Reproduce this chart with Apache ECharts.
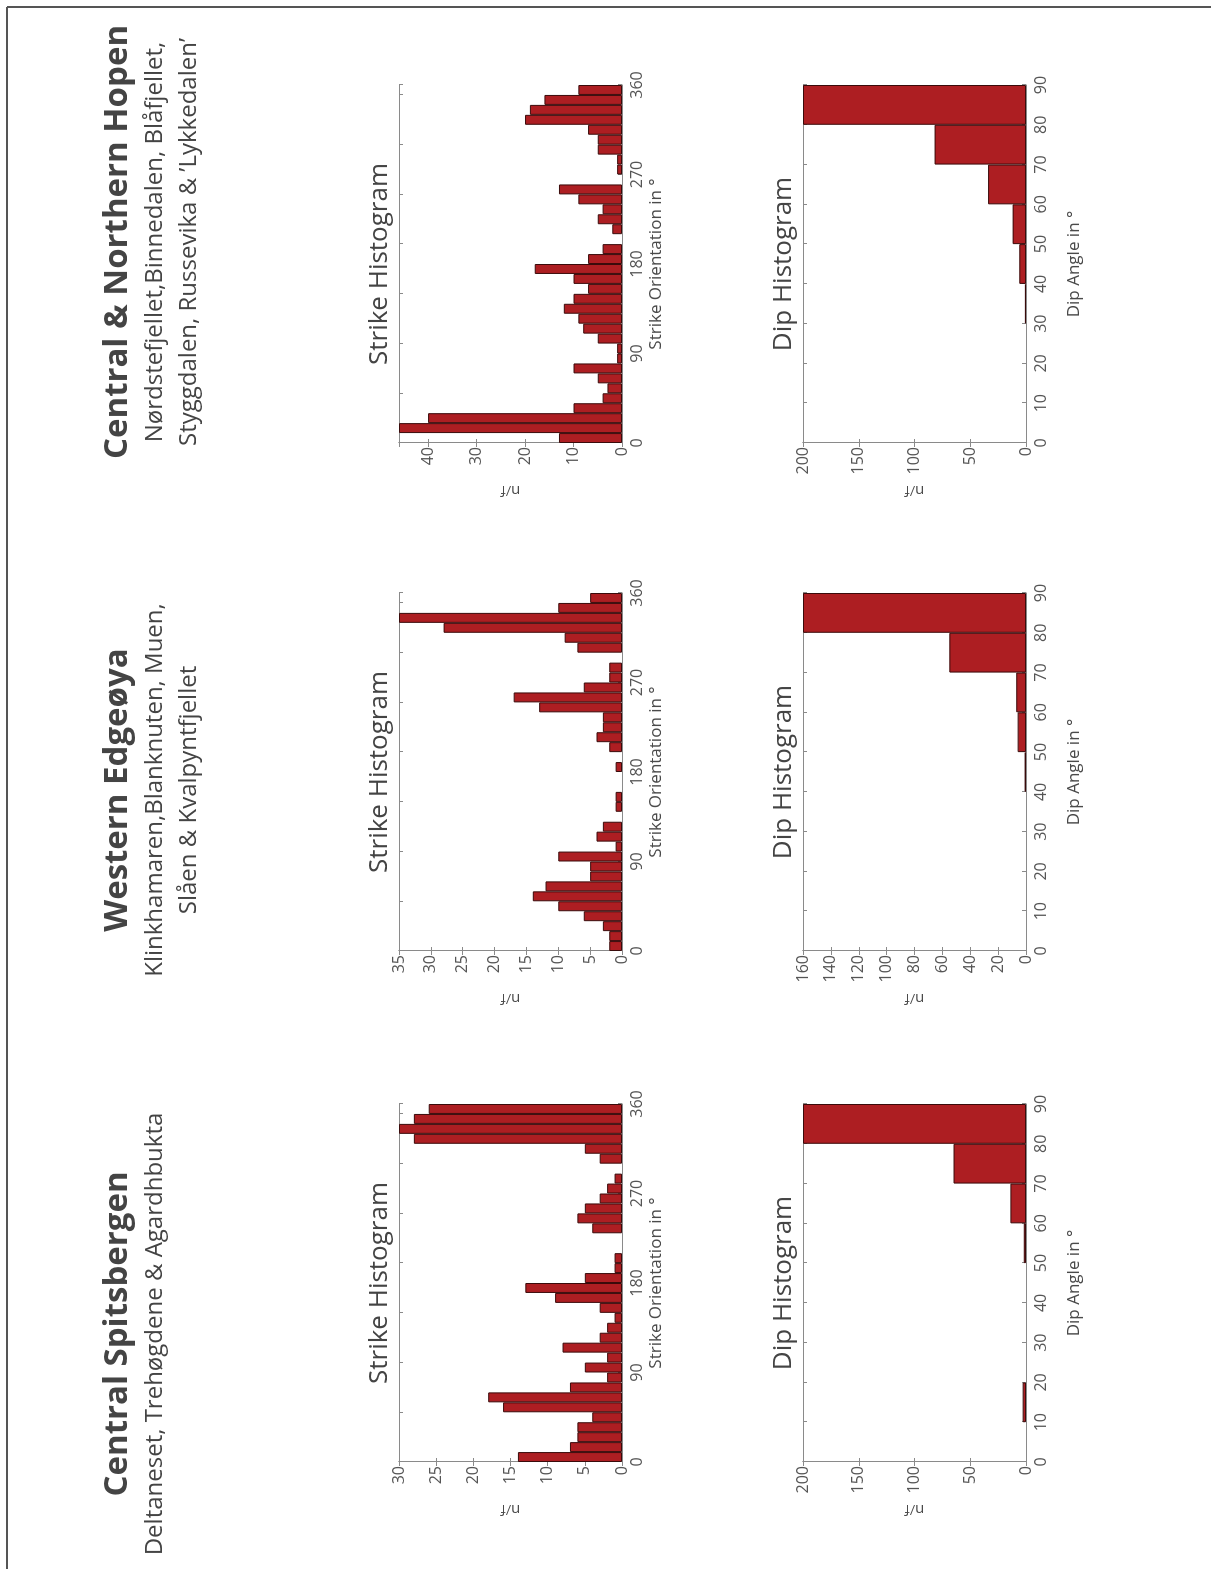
<!DOCTYPE html>
<html>
<head>
<meta charset="utf-8">
<script src="https://cdn.jsdelivr.net/npm/echarts@6/dist/echarts.min.js"></script>
<style>
  html, body { margin: 0; padding: 0; background: #fff; overflow: hidden; }
  #page { position: absolute; left: 0; top: 0; width: 1211px; height: 1569px; overflow: hidden; background: #fff; }
  /* the figure is laid out in landscape and turned a quarter turn counter-clockwise */
  #chart { position: absolute; left: 0; top: 0; width: 1569px; height: 1211px;
           transform-origin: 0 0; transform: translate(0, 1569px) rotate(-90deg); }
</style>
</head>
<body>
<div id="page"><div id="chart"></div></div>
<script>
// ---- bins ----
const strikeBins = ['0-10','10-20','20-30','30-40','40-50','50-60','60-70','70-80','80-90',
  '90-100','100-110','110-120','120-130','130-140','140-150','150-160','160-170','170-180',
  '180-190','190-200','200-210','210-220','220-230','230-240','240-250','250-260','260-270',
  '270-280','280-290','290-300','300-310','310-320','320-330','330-340','340-350','350-360'];
const dipBins = ['0-10','10-20','20-30','30-40','40-50','50-60','60-70','70-80','80-90'];

// ---- region names ----
const regionTitles = ['Central Spitsbergen', 'Western Edgeøya', 'Central & Northern Hopen'];
const regionSites = [
  ['Deltaneset, Trehøgdene & Agardhbukta'],
  ['Klinkhamaren,Blanknuten, Muen,', 'Slåen & Kvalpyntfjellet'],
  ['Nørdstefjellet,Binnedalen, Blåfjellet,', 'Styggdalen, Russevika & \u2019Lykkedalen\u2019']
];

// ---- strike counts per 10° bin ----
const spitsbergenStrike = [14,7,6,6,4,16,18,7,2,5,2,8,3,2,1,3,9,13,5,1,1,0,0,4,6,5,3,2,1,0,3,5,28,30,28,26];
const edgeoyaStrike     = [2,2,3,6,10,14,12,5,5,10,1,4,3,0,1,1,0,0,1,0,2,4,3,3,13,17,6,2,2,0,7,9,28,35,10,5];
const hopenStrike       = [13,46,40,10,4,3,5,10,1,1,5,8,9,12,10,7,10,18,7,4,0,2,5,4,9,13,0,1,1,5,5,7,20,19,16,9];

// ---- dip counts per 10° bin ----
const spitsbergenDip = [0,3,0,0,0,2,14,65,200];
const edgeoyaDip     = [0,0,0,0,1,6,7,55,160];
const hopenDip       = [0,0,0,1,6,12,34,82,200];

// ---- axis ranges ----
const strikeMax = [30, 35, 46];
const strikeStep = [5, 5, 10];
const dipMax = [200, 160, 200];
const dipStep = [50, 20, 50];

// ---- layout (landscape pixel frame) ----
const colLeft = [107, 618, 1126];
const colWidth = 358;
const strikeTop = 399, dipTop = 803, plotH = 223;
const headCenter = [235, 779, 1327];
const FONT = '"Open Sans", "Noto Sans", sans-serif';
const TEXT = '#4a4a4a';
const AXIS = '#8a8a8a';
const BAR = '#ad1e22';
const BAR_EDGE = '#3a0b0b';

const strikeSeries = [spitsbergenStrike, edgeoyaStrike, hopenStrike];
const dipSeries = [spitsbergenDip, edgeoyaDip, hopenDip];

const grid = [], xAxis = [], yAxis = [], series = [], graphic = [];

function addPanel(col, top, bins, values, xmax, xStep, topStep, xName, nameGap, ymax, ystep, title) {
  const g = grid.length;
  grid.push({ left: colLeft[col], top: top, width: colWidth, height: plotH, containLabel: false });
  const xi = xAxis.length;
  // hidden bin axis carrying the bars
  xAxis.push({ type: 'category', gridIndex: g, data: bins, show: false, boundaryGap: true });
  // labelled angle axis
  xAxis.push({
    type: 'value', gridIndex: g, position: 'bottom', min: 0, max: xmax, interval: xStep,
    name: xName, nameLocation: 'middle', nameGap: nameGap,
    nameTextStyle: { fontFamily: FONT, fontSize: 17, color: TEXT },
    axisLine: { show: true, lineStyle: { color: AXIS, width: 1 } },
    axisTick: { show: true, inside: true, length: 4, lineStyle: { color: AXIS } },
    axisLabel: { show: true, margin: 7, fontFamily: FONT, fontSize: 16, color: '#555' },
    splitLine: { show: false }
  });
  // mirrored top edge
  xAxis.push({
    type: 'value', gridIndex: g, position: 'top', min: 0, max: xmax, interval: topStep,
    axisLine: { show: true, lineStyle: { color: AXIS, width: 1 } },
    axisTick: { show: true, inside: true, length: 4, lineStyle: { color: AXIS } },
    axisLabel: { show: false }, splitLine: { show: false }
  });
  const yi = yAxis.length;
  yAxis.push({
    type: 'value', gridIndex: g, position: 'left', min: 0, max: ymax, interval: ystep,
    name: 'n/f', nameLocation: 'middle', nameGap: 40, nameRotate: 90,
    nameTextStyle: { fontFamily: FONT, fontSize: 15, color: TEXT },
    axisLine: { show: true, lineStyle: { color: AXIS, width: 1 } },
    axisTick: { show: true, inside: true, length: 4, lineStyle: { color: AXIS } },
    axisLabel: { show: true, margin: 4, fontFamily: FONT, fontSize: 16, color: '#555',
      formatter: v => (v % ystep === 0 ? String(v) : '') },
    splitLine: { show: false }
  });
  yAxis.push({
    type: 'value', gridIndex: g, position: 'right', min: 0, max: ymax, interval: ystep,
    axisLine: { show: true, lineStyle: { color: AXIS, width: 1 } },
    axisTick: { show: true, inside: true, length: 4, lineStyle: { color: AXIS } },
    axisLabel: { show: false }, splitLine: { show: false }
  });
  series.push({
    type: 'bar', xAxisIndex: xi, yAxisIndex: yi,
    data: values.map(v => (v > 0 ? v : null)),
    barCategoryGap: '0%', barGap: '0%',
    itemStyle: { color: BAR, borderColor: BAR_EDGE, borderWidth: 1 },
    emphasis: { disabled: true }, silent: true, animation: false
  });
  graphic.push({
    type: 'text', x: colLeft[col] + colWidth / 2, y: top - 19,
    style: { text: title, font: '26px ' + FONT, fill: '#444',
      align: 'center', verticalAlign: 'middle', textAlign: 'center', textVerticalAlign: 'middle' }
  });
}

for (let c = 0; c < 3; c++) {
  addPanel(c, strikeTop, strikeBins, strikeSeries[c], 360, 90, 50,
    'Strike Orientation in \u00b0', 26, strikeMax[c], strikeStep[c], 'Strike Histogram');
  addPanel(c, dipTop, dipBins, dipSeries[c], 90, 10, 10,
    'Dip Angle in \u00b0', 40, dipMax[c], dipStep[c], 'Dip Histogram');

  // region heading and site names
  graphic.push({
    type: 'text', x: headCenter[c], y: 118,
    style: { text: regionTitles[c], font: 'bold 33px ' + FONT, fill: '#444',
      align: 'center', verticalAlign: 'middle', textAlign: 'center', textVerticalAlign: 'middle' }
  });
  regionSites[c].forEach((line, i) => {
    graphic.push({
      type: 'text', x: headCenter[c], y: 155 + i * 34,
      style: { text: line, font: '24px ' + FONT, fill: '#444',
        align: 'center', verticalAlign: 'middle', textAlign: 'center', textVerticalAlign: 'middle' }
    });
  });
}

// frame edges
graphic.push({ type: 'line', shape: { x1: 0, y1: 7, x2: 1562, y2: 7 }, style: { stroke: '#555', lineWidth: 2 } });
graphic.push({ type: 'line', shape: { x1: 1562, y1: 7, x2: 1562, y2: 1211 }, style: { stroke: '#555', lineWidth: 2 } });

const chart = echarts.init(document.getElementById('chart'), null, { renderer: 'canvas' });
chart.setOption({
  backgroundColor: '#fff',
  animation: false,
  grid, xAxis, yAxis, series, graphic
});
</script>
</body>
</html>
